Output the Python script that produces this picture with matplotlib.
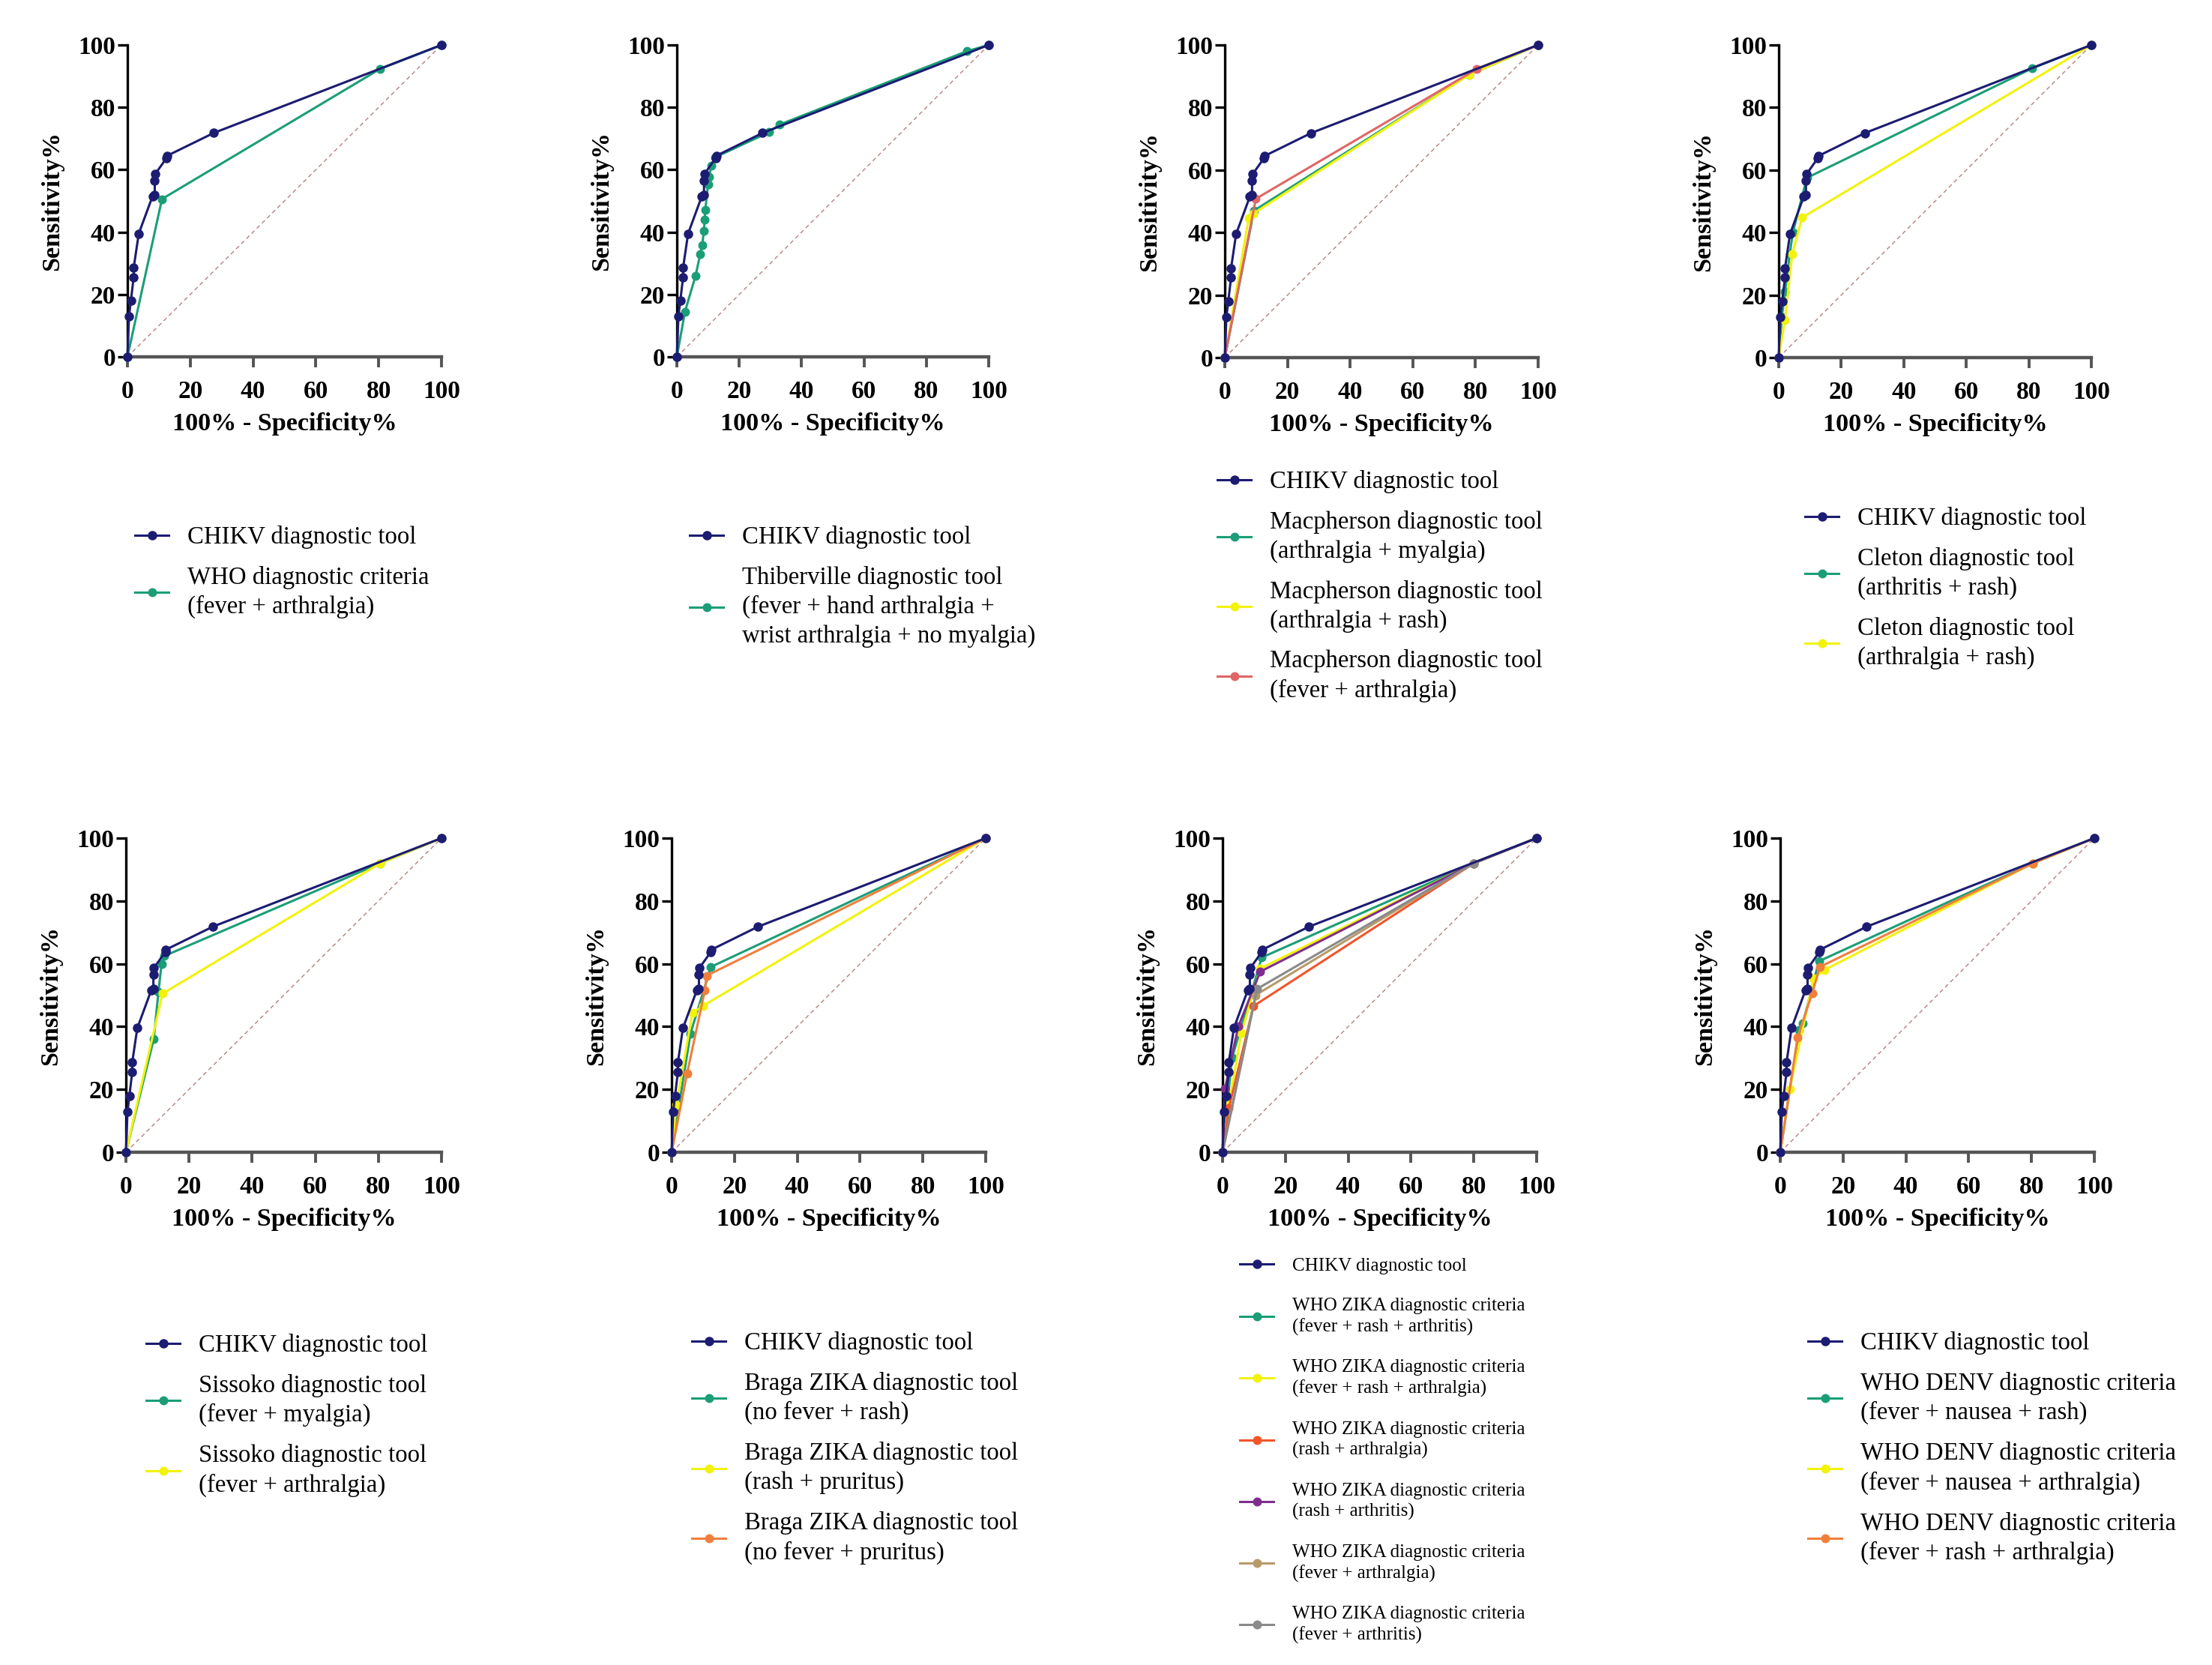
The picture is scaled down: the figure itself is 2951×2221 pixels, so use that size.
import matplotlib
matplotlib.use("Agg")
import matplotlib.pyplot as plt

plt.rcParams["font.family"] = ["Liberation Serif", "DejaVu Serif"]

W, H = 2951, 2221
DPI = 200

# ---- data (x = 100% - Specificity%, y = Sensitivity%) ----
chikv_x = [0, 0.5, 1.1, 2.0, 2.0, 3.6, 8.0, 8.7, 8.7, 8.9, 12.5, 12.7, 27.5, 100]
chikv_y = [0, 13.0, 18.0, 25.6, 28.6, 39.5, 51.5, 52.0, 56.5, 58.7, 63.8, 64.5, 71.8, 100]

who_x = [0, 11.0, 80.4, 100]
who_y = [0, 50.6, 92.3, 100]

thib_x = [0, 2.6, 6.0, 7.5, 8.1, 8.7, 8.9, 9.1, 10.0, 10.4, 11.0, 12.3, 29.5, 33.0, 93.0, 100]
thib_y = [0, 14.5, 26.0, 33.0, 35.8, 40.5, 44.0, 47.0, 55.3, 57.6, 61.3, 64.0, 72.0, 74.5, 98.0, 100]

mac_am_x = [0, 9.3, 78.0, 100]
mac_am_y = [0, 47.0, 90.5, 100]
mac_ar_x = [0, 7.6, 9.0, 78.0, 100]
mac_ar_y = [0, 44.5, 46.0, 90.5, 100]
mac_fa_x = [0, 9.9, 80.4, 100]
mac_fa_y = [0, 50.8, 92.3, 100]

clet_ar_x = [0, 1.0, 2.0, 3.5, 4.5, 9.0, 81.0, 100]
clet_ar_y = [0, 13.0, 21.0, 33.0, 40.0, 57.5, 92.5, 100]
clet_alr_x = [0, 2.0, 4.3, 7.5, 100]
clet_alr_y = [0, 12.0, 33.0, 44.8, 100]

sis_fm_x = [0, 8.8, 10.3, 11.3, 12.2, 80.6, 100]
sis_fm_y = [0, 36.0, 51.0, 60.0, 62.5, 92.0, 100]
sis_fa_x = [0, 11.6, 80.6, 100]
sis_fa_y = [0, 50.5, 92.0, 100]

braga_nfr_x = [0, 6.0, 12.5, 100]
braga_nfr_y = [0, 37.8, 59.0, 100]
braga_rp_x = [0, 1.5, 6.6, 10.0, 100]
braga_rp_y = [0, 15.0, 44.3, 46.6, 100]
braga_nfp_x = [0, 4.9, 10.6, 11.1, 100]
braga_nfp_y = [0, 25.0, 51.6, 56.2, 100]

zika_fra_x = [0, 3.0, 12.5, 80.0, 100]
zika_fra_y = [0, 30.0, 62.0, 92.0, 100]
zika_fral_x = [0, 2.0, 6.0, 12.0, 80.0, 100]
zika_fral_y = [0, 15.0, 38.0, 58.5, 92.0, 100]
zika_ral_x = [0, 2.0, 9.8, 80.0, 100]
zika_ral_y = [0, 14.0, 46.5, 92.0, 100]
zika_ra_x = [0, 0.8, 5.0, 12.0, 80.0, 100]
zika_ra_y = [0, 20.4, 40.0, 57.5, 92.0, 100]
zika_fal_x = [0, 10.5, 80.0, 100]
zika_fal_y = [0, 50.0, 92.0, 100]
zika_fa_x = [0, 11.0, 80.0, 100]
zika_fa_y = [0, 52.0, 92.0, 100]

denv_fnr_x = [0, 6.0, 7.2, 12.3, 80.5, 100]
denv_fnr_y = [0, 38.8, 41.0, 60.8, 92.0, 100]
denv_fna_x = [0, 3.0, 10.6, 14.0, 80.5, 100]
denv_fna_y = [0, 20.0, 55.3, 58.0, 92.0, 100]
denv_fra_x = [0, 5.5, 10.2, 12.6, 80.5, 100]
denv_fra_y = [0, 36.5, 50.7, 59.0, 92.0, 100]

ticks = [0, 20, 40, 60, 80, 100]

NAVY = "#1c1c72"
GREEN = "#1b9e77"
YELLOW = "#f2f20c"
RED = "#e06666"
ORANGE = "#f07f3c"
ORANGE2 = "#f0552a"
PURPLE = "#7e2f8e"
TAN = "#b89a6a"
GRAY = "#8a8a8a"
DIAG = "#b58080"

CHIKV_LABEL = "CHIKV diagnostic tool"

# legend styles: (fontsize, linespacing, labelspacing)
LEG_BIG = (11.8, 1.34, 0.7)
LEG_SMALL = (9.0, 1.32, 1.25)

panels = [
    # axes px (x0, x1, ytop, ybot), legend (left px, top px, style), series
    ((170, 589, 60, 476), (180, 701, LEG_BIG),
     [(who_x, who_y, GREEN, "WHO diagnostic criteria\n(fever + arthralgia)")]),
    ((903, 1319, 60, 476), (920, 701, LEG_BIG),
     [(thib_x, thib_y, GREEN, "Thiberville diagnostic tool\n(fever + hand arthralgia +\nwrist arthralgia + no myalgia)")]),
    ((1634, 2052, 60, 477), (1624, 627, LEG_BIG),
     [(mac_am_x, mac_am_y, GREEN, "Macpherson diagnostic tool\n(arthralgia + myalgia)"),
      (mac_ar_x, mac_ar_y, YELLOW, "Macpherson diagnostic tool\n(arthralgia + rash)"),
      (mac_fa_x, mac_fa_y, RED, "Macpherson diagnostic tool\n(fever + arthralgia)")]),
    ((2373, 2790, 60, 477), (2408, 676, LEG_BIG),
     [(clet_ar_x, clet_ar_y, GREEN, "Cleton diagnostic tool\n(arthritis + rash)"),
      (clet_alr_x, clet_alr_y, YELLOW, "Cleton diagnostic tool\n(arthralgia + rash)")]),
    ((168, 589, 1118, 1537), (195, 1779, LEG_BIG),
     [(sis_fm_x, sis_fm_y, GREEN, "Sissoko diagnostic tool\n(fever + myalgia)"),
      (sis_fa_x, sis_fa_y, YELLOW, "Sissoko diagnostic tool\n(fever + arthralgia)")]),
    ((896, 1315, 1118, 1537), (923, 1776, LEG_BIG),
     [(braga_nfr_x, braga_nfr_y, GREEN, "Braga ZIKA diagnostic tool\n(no fever + rash)"),
      (braga_rp_x, braga_rp_y, YELLOW, "Braga ZIKA diagnostic tool\n(rash + pruritus)"),
      (braga_nfp_x, braga_nfp_y, ORANGE, "Braga ZIKA diagnostic tool\n(no fever + pruritus)")]),
    ((1631, 2050, 1118, 1537), (1654, 1677, LEG_SMALL),
     [(zika_fra_x, zika_fra_y, GREEN, "WHO ZIKA diagnostic criteria\n(fever + rash + arthritis)"),
      (zika_fral_x, zika_fral_y, YELLOW, "WHO ZIKA diagnostic criteria\n(fever + rash + arthralgia)"),
      (zika_ral_x, zika_ral_y, ORANGE2, "WHO ZIKA diagnostic criteria\n(rash + arthralgia)"),
      (zika_ra_x, zika_ra_y, PURPLE, "WHO ZIKA diagnostic criteria\n(rash + arthritis)"),
      (zika_fal_x, zika_fal_y, TAN, "WHO ZIKA diagnostic criteria\n(fever + arthralgia)"),
      (zika_fa_x, zika_fa_y, GRAY, "WHO ZIKA diagnostic criteria\n(fever + arthritis)")]),
    ((2375, 2794, 1118, 1537), (2412, 1776, LEG_BIG),
     [(denv_fnr_x, denv_fnr_y, GREEN, "WHO DENV diagnostic criteria\n(fever + nausea + rash)"),
      (denv_fna_x, denv_fna_y, YELLOW, "WHO DENV diagnostic criteria\n(fever + nausea + arthralgia)"),
      (denv_fra_x, denv_fra_y, ORANGE, "WHO DENV diagnostic criteria\n(fever + rash + arthralgia)")]),
]

fig = plt.figure(figsize=(W / DPI, H / DPI), dpi=DPI)

for (x0, x1, yt, yb), (lx, ly, (fs, lsp, labsp)), series in panels:
    ax = fig.add_axes([x0 / W, 1 - yb / H, (x1 - x0) / W, (yb - yt) / H])
    ax.plot([0, 100], [0, 100], color=DIAG, lw=0.5, ls=(0, (4, 3)), zorder=1)

    handles, labels = [], []
    for sx, sy, col, lab in series:
        ln, = ax.plot(sx, sy, color=col, lw=1.1, marker="o", ms=3.3,
                      clip_on=False, zorder=3)
        handles.append(ln)
        labels.append(lab)
    ch, = ax.plot(chikv_x, chikv_y, color=NAVY, lw=1.1, marker="o", ms=3.5,
                  clip_on=False, zorder=4)
    handles.insert(0, ch)
    labels.insert(0, CHIKV_LABEL)

    ax.set_xlim(0, 100)
    ax.set_ylim(0, 100)
    ax.set_xticks(ticks)
    ax.set_yticks(ticks)
    for sp in ("top", "right"):
        ax.spines[sp].set_visible(False)
    ax.spines["left"].set_linewidth(1.2)
    ax.spines["bottom"].set_linewidth(1.6)
    ax.spines["bottom"].set_color("#555555")
    ax.tick_params(axis="x", direction="out", length=5, width=1.4, color="#555555",
                   pad=6, labelsize=12)
    ax.tick_params(axis="y", direction="out", length=4.7, width=1.2, pad=1,
                   labelsize=12)
    for t in ax.get_xticklabels() + ax.get_yticklabels():
        t.set_fontweight("bold")
    ax.set_xlabel("100% - Specificity%", fontsize=12.3, fontweight="bold", labelpad=4.6)
    ax.set_ylabel("Sensitivity%", fontsize=12.3, fontweight="bold", labelpad=7)

    fpx = fs * DPI / 72.0
    leg = ax.legend(handles, labels, loc="upper left",
                    bbox_to_anchor=(lx / W, 1 - ly / H), bbox_transform=fig.transFigure,
                    frameon=False, borderpad=0, borderaxespad=0,
                    handlelength=45 / fpx, handletextpad=25 / fpx,
                    labelspacing=labsp, prop={"size": fs})
    for t in leg.get_texts():
        t.set_linespacing(lsp)

fig.savefig("out.png", dpi=DPI)
